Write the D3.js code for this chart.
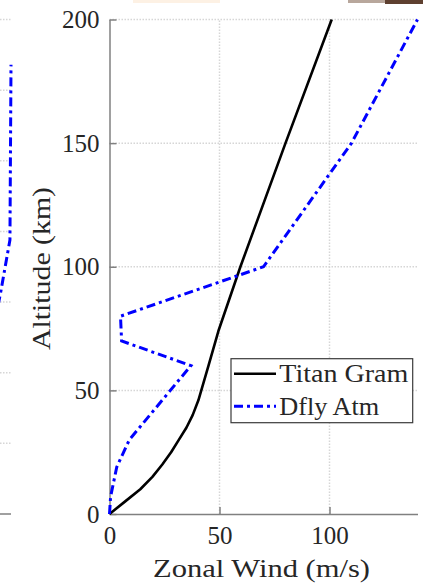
<!DOCTYPE html>
<html>
<head>
<meta charset="utf-8">
<script src="https://cdn.jsdelivr.net/npm/d3@7"></script>
<style>
body { margin: 0; background: #fff; }
svg { display: block; }
</style>
</head>
<body>
<script>
// main panel data (zonal wind m/s vs altitude km)
var titanWind = [0, 7, 14, 19.5, 24, 28, 31.5, 35, 37.8, 40.4, 45, 49.5, 59.5, 80, 101];
var titanAlt  = [0, 5, 10, 15, 20, 25, 30, 35, 40, 46, 60, 74, 100, 150, 200];
var dflyWind  = [0, 0.5, 3.3, 9, 37, 5.5, 5, 70, 110, 140];
var dflyAlt   = [0, 7, 19, 30, 60, 70, 80, 100, 150, 200];
var xTicks = [0, 50, 100];
var yTicks = [0, 50, 100, 150, 200];
var seriesNames = ["Titan Gram", "Dfly Atm"];

// neighbouring panel, only its right edge is visible in the crop
var leftWind = [18.0, 19.0, 19.9, 20.0];
var leftAlt  = [120, 156, 194, 318];
var leftGrid = [50, 100, 150, 200, 250, 300, 350];

var W = 423, H = 584;
var serif = "'Liberation Serif', serif";
var dashDot = "9,4,3,4";

var svg = d3.select("body").append("svg")
  .attr("width", W)
  .attr("height", H)
  .style("background", "#fff");

// bits of other figures peeking in at the top edge
svg.append("rect").attr("x", 133).attr("y", 0).attr("width", 87).attr("height", 3).attr("fill", "#fdf1e4");
svg.append("rect").attr("x", 348).attr("y", 0).attr("width", 37).attr("height", 3).attr("fill", "#b8a79c");
svg.append("rect").attr("x", 385).attr("y", 0).attr("width", 38).attr("height", 4).attr("fill", "#5e4030");

// ---- left (cut off) panel ----
var lx = d3.scaleLinear().domain([0, 20]).range([-200, 11]);
var ly = d3.scaleLinear().domain([0, 350]).range([514, 19.5]);

svg.append("g").selectAll("line")
  .data(leftGrid)
  .join("line")
  .attr("x1", 0).attr("x2", lx(20))
  .attr("y1", d => ly(d)).attr("y2", d => ly(d))
  .attr("stroke", "#d6d6d6")
  .attr("stroke-width", 1.5)
  .attr("stroke-dasharray", "1.5,1.5");

svg.append("line")
  .attr("x1", 0).attr("x2", lx(20))
  .attr("y1", ly(0)).attr("y2", ly(0))
  .attr("stroke", "#808080")
  .attr("stroke-width", 1.5);

svg.append("path")
  .datum(d3.range(leftWind.length))
  .attr("fill", "none")
  .attr("stroke", "#0000ff")
  .attr("stroke-width", 3)
  .attr("stroke-dasharray", dashDot)
  .attr("d", d3.line().x(i => lx(leftWind[i])).y(i => ly(leftAlt[i])));

// ---- main panel ----
var x = d3.scaleLinear().domain([0, 140]).range([109.5, 417.5]);
var y = d3.scaleLinear().domain([0, 200]).range([514, 19.5]);

var grid = svg.append("g")
  .attr("stroke", "#d6d6d6")
  .attr("stroke-width", 1.5)
  .attr("stroke-dasharray", "1.5,1.5");

grid.selectAll(".h")
  .data(yTicks.slice(1))
  .join("line")
  .attr("class", "h")
  .attr("x1", x(0)).attr("x2", x(140))
  .attr("y1", d => y(d)).attr("y2", d => y(d));

grid.selectAll(".v")
  .data(xTicks.slice(1))
  .join("line")
  .attr("class", "v")
  .attr("x1", d => x(d)).attr("x2", d => x(d))
  .attr("y1", y(0)).attr("y2", y(200));

var xAxis = svg.append("g")
  .attr("transform", `translate(0,${y(0)})`)
  .call(d3.axisBottom(x).tickValues(xTicks).tickSizeInner(-7).tickSizeOuter(0).tickPadding(12));

var yAxis = svg.append("g")
  .attr("transform", `translate(${x(0)},0)`)
  .call(d3.axisLeft(y).tickValues(yTicks).tickSizeInner(-7).tickSizeOuter(0).tickPadding(10));

[xAxis, yAxis].forEach(function(g) {
  g.attr("font-family", serif).attr("font-size", 25);
  g.select(".domain").attr("stroke", "#808080").attr("stroke-width", 1.5);
  g.selectAll(".tick line").attr("stroke", "#808080").attr("stroke-width", 1.5);
  g.selectAll(".tick text").attr("fill", "#262626");
});

var line = d3.line();

svg.append("path")
  .datum(titanWind.map((w, i) => [x(w), y(titanAlt[i])]))
  .attr("fill", "none")
  .attr("stroke", "#000")
  .attr("stroke-width", 2.6)
  .attr("stroke-linejoin", "round")
  .attr("d", line);

svg.append("path")
  .datum(dflyWind.map((w, i) => [x(w), y(dflyAlt[i])]))
  .attr("fill", "none")
  .attr("stroke", "#0000ff")
  .attr("stroke-width", 3)
  .attr("stroke-dasharray", dashDot)
  .attr("d", line);

// axis labels
svg.append("text")
  .attr("x", 261.5)
  .attr("y", 577)
  .attr("text-anchor", "middle")
  .attr("fill", "#262626")
  .attr("font-family", serif)
  .attr("font-size", 26)
  .attr("textLength", 217)
  .attr("lengthAdjust", "spacingAndGlyphs")
  .text("Zonal Wind (m/s)");

svg.append("text")
  .attr("transform", "translate(50,268.5) rotate(-90)")
  .attr("text-anchor", "middle")
  .attr("fill", "#262626")
  .attr("font-family", serif)
  .attr("font-size", 26)
  .attr("textLength", 163)
  .attr("lengthAdjust", "spacingAndGlyphs")
  .text("Altitude (km)");

// legend
var legend = svg.append("g").attr("transform", "translate(231,358.7)");
legend.append("rect")
  .attr("width", 181.7)
  .attr("height", 64)
  .attr("fill", "#fff")
  .attr("stroke", "#3a3a3a")
  .attr("stroke-width", 1.2);

var legendLen = [129, 100];
var legendStyle = [
  { stroke: "#000", dash: null, width: 2.6 },
  { stroke: "#0000ff", dash: dashDot, width: 3 }
];

var item = legend.selectAll(".item")
  .data(seriesNames)
  .join("g")
  .attr("class", "item")
  .attr("transform", (d, i) => `translate(0,${15 + i * 32.6})`);

item.append("line")
  .attr("x1", 3).attr("x2", 45)
  .attr("stroke", (d, i) => legendStyle[i].stroke)
  .attr("stroke-width", (d, i) => legendStyle[i].width)
  .attr("stroke-dasharray", (d, i) => legendStyle[i].dash);

item.append("text")
  .attr("x", 48.3)
  .attr("y", 8.3)
  .attr("fill", "#262626")
  .attr("font-family", serif)
  .attr("font-size", 25)
  .attr("textLength", (d, i) => legendLen[i])
  .attr("lengthAdjust", "spacingAndGlyphs")
  .text(d => d);
</script>
</body>
</html>
